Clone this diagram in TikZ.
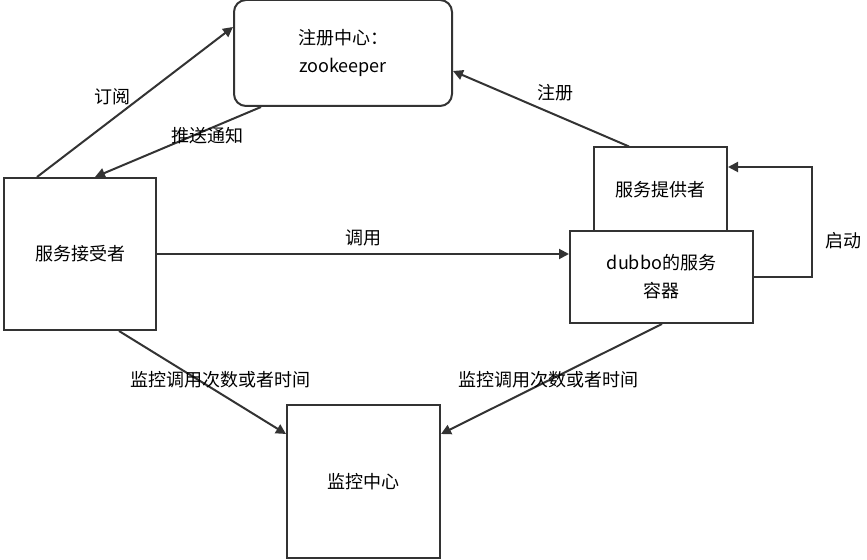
\documentclass[tikz,border=0pt]{standalone}
\usepackage{fontspec}
\setmainfont{Noto Sans CJK SC}
\usetikzlibrary{arrows.meta}
\definecolor{ink}{HTML}{333333}
\begin{document}
\begin{tikzpicture}[x=0.5pt,y=-0.5pt,
    box/.style={draw=ink,line width=1pt,fill=white,inner sep=0pt,font=\fontsize{9}{14}\selectfont,align=center},
    link/.style={draw=ink,line width=1pt,-{Triangle[length=5pt,width=5pt]}},
    tag/.style={font=\fontsize{9}{11}\selectfont}]
\useasboundingbox (0,0) rectangle (867,560);
\path
    (343,53) node [box,rounded corners=6pt,minimum width=109pt,minimum height=53pt] (registry) {注册中心：\\zookeeper}
    (80,254) node [box,minimum width=76pt,minimum height=76pt] (consumer) {服务接受者}
    (660.5,190) node [box,minimum width=66.5pt,minimum height=42.5pt] (provider) {服务提供者}
    (661.5,277) node [box,minimum width=91.5pt,minimum height=46pt] (container) {dubbo的服务\\容器}
    (363.5,481.5) node [box,minimum width=76.5pt,minimum height=76.5pt] (monitor) {监控中心};
\coordinate (bendlow) at (812,277);
\coordinate (bendhigh) at (812,167);
\draw [link] ([xshift=17pt]consumer.north west) -- ([yshift=-14pt]registry.north west);
\node [tag] at (112,97) {订阅};
\draw [link] ([xshift=14pt]registry.south west) -- ([xshift=46pt]consumer.north west);
\node [tag] at (207,136) {推送通知};
\draw [link] ([xshift=18pt]provider.north west) -- ([yshift=-36pt]registry.north east);
\node [tag] at (555,93) {注册};
\draw [link] (consumer.east) -- ([yshift=11.5pt]container.west)
    node [tag,midway,above] {调用};
\draw [link] (container.east) -- (bendlow) -- (bendhigh) -- ([yshift=11.5pt]provider.east);
\node [tag] at (843,241) {启动};
\draw [link] ([xshift=58pt]consumer.south west) -- ([yshift=-15pt]monitor.north west);
\node [tag] at (220,380) {监控调用次数或者时间};
\draw [link] ([xshift=46.5pt]container.south west) -- ([yshift=-15pt]monitor.north east);
\node [tag] at (548,380) {监控调用次数或者时间};
\end{tikzpicture}
\end{document}
